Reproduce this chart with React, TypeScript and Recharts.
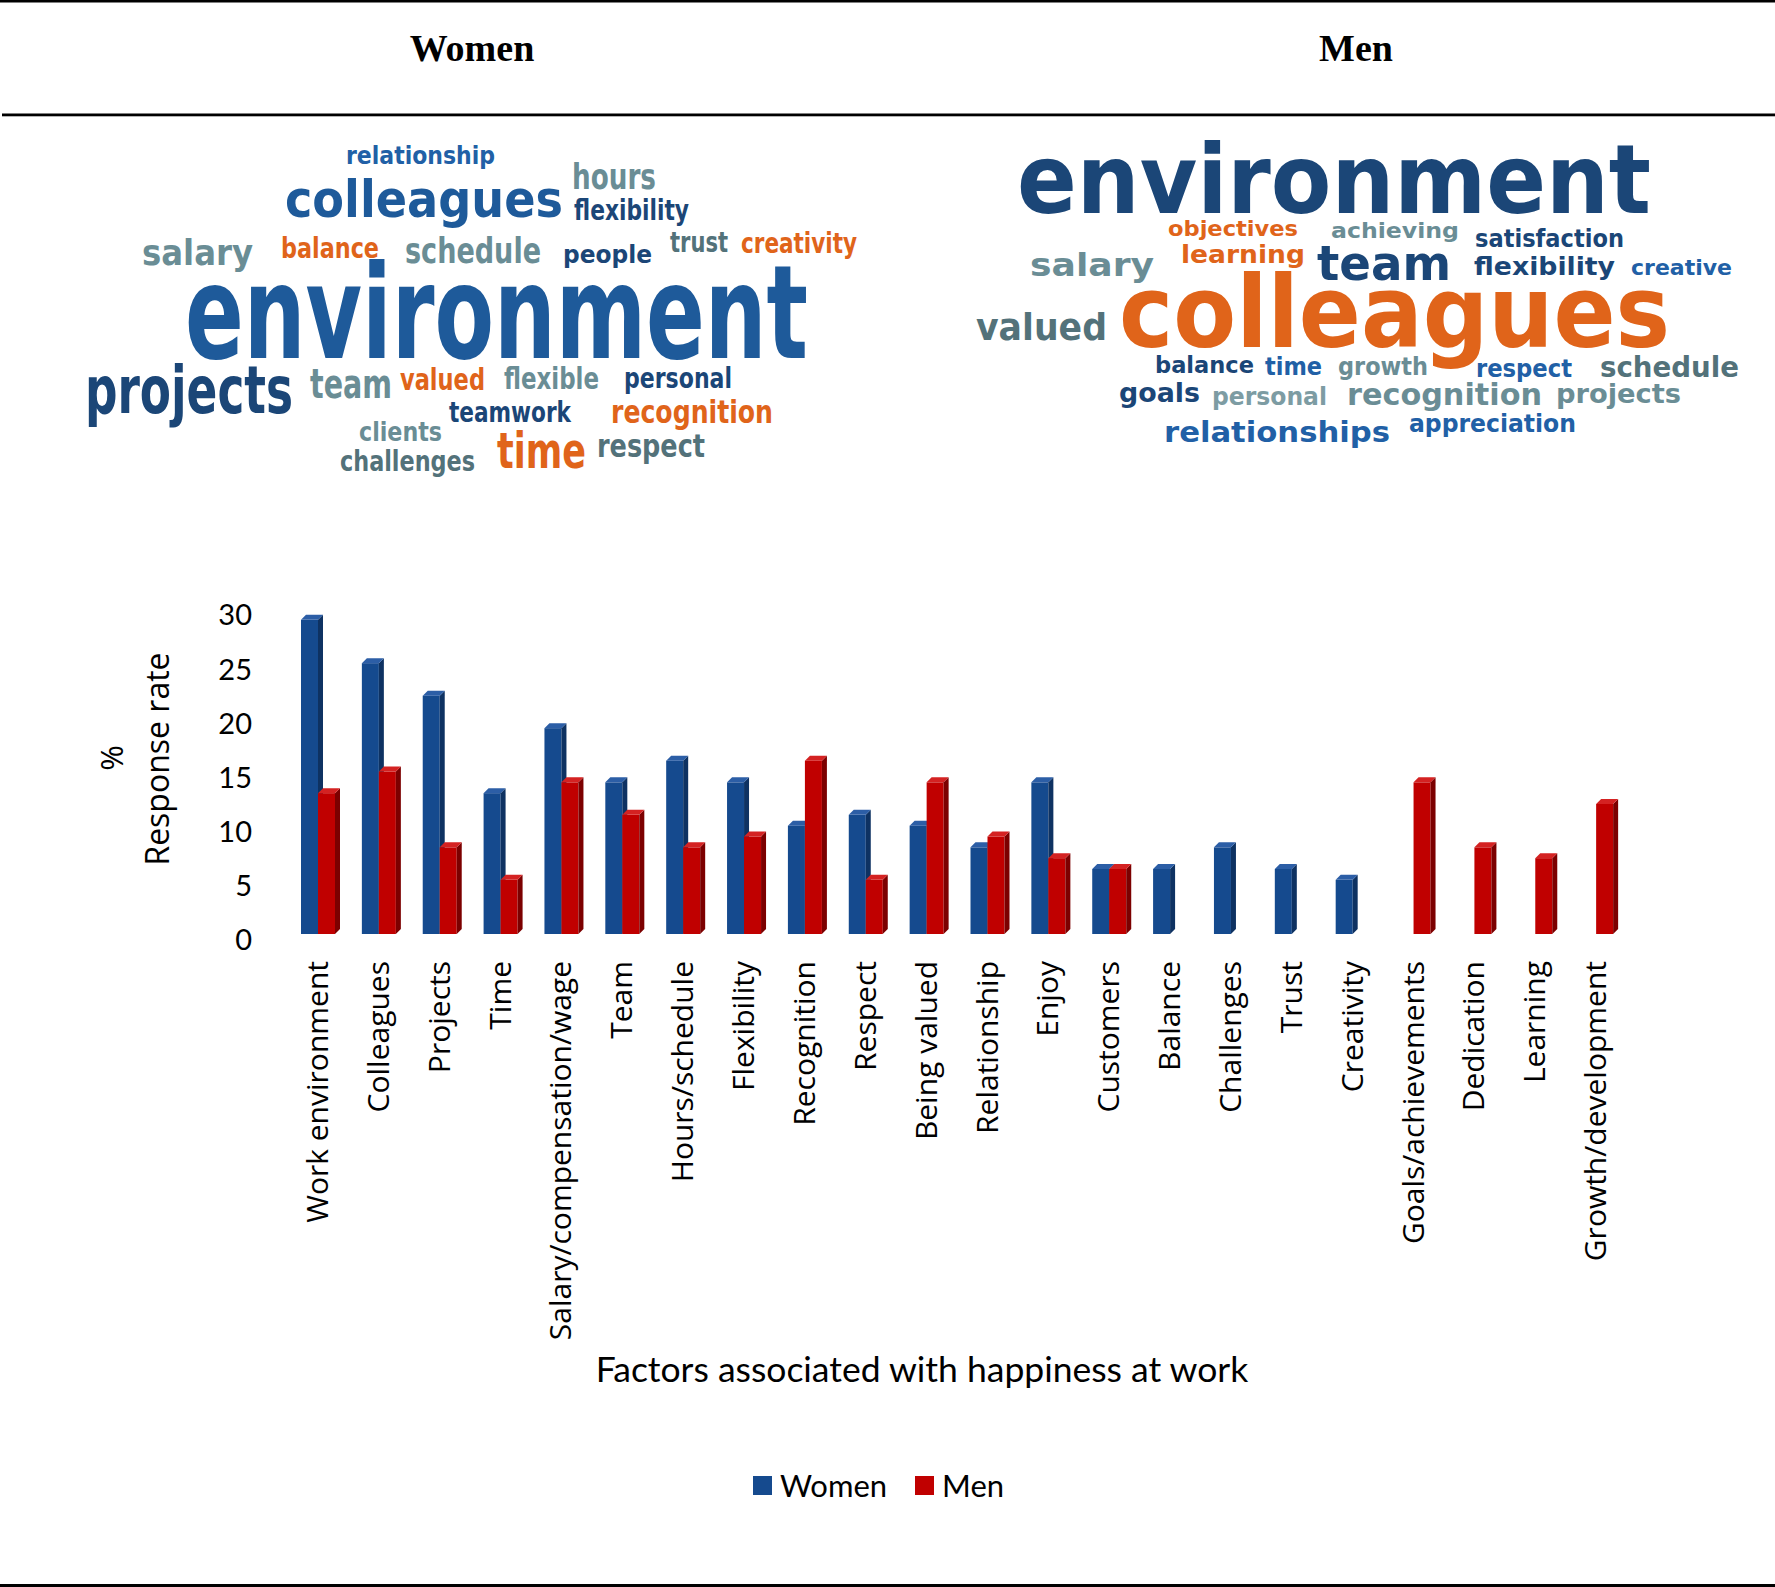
import React from 'react';
import { BarChart, Bar, XAxis, YAxis, Legend } from 'recharts';

// ---------- data ----------
const categories = [
  'Work environment', 'Colleagues', 'Projects', 'Time', 'Salary/compensation/wage', 'Team',
  'Hours/schedule', 'Flexibility', 'Recognition', 'Respect', 'Being valued', 'Relationship',
  'Enjoy', 'Customers', 'Balance', 'Challenges', 'Trust', 'Creativity', 'Goals/achievements',
  'Dedication', 'Learning', 'Growth/development',
];
const womenValues = [29, 25, 22, 13, 19, 14, 16, 14, 10, 11, 10, 8, 14, 6, 6, 8, 6, 5, null, null, null, null];
const menValues = [13, 15, 8, 5, 14, 11, 8, 9, 16, 5, 14, 9, 7, 6, null, null, null, null, 14, 8, 7, 12];
const yTicks = [0, 5, 10, 15, 20, 25, 30];
const seriesNames = ['Women', 'Men'];

// word cloud word lists
const womenWords = ['relationship', 'colleagues', 'hours', 'flexibility', 'salary', 'balance', 'schedule', 'people', 'trust', 'creativity', 'environment', 'projects', 'team', 'valued', 'flexible', 'personal', 'teamwork', 'recognition', 'clients', 'time', 'respect', 'challenges'];
const menWords = ['environment', 'objectives', 'achieving', 'satisfaction', 'salary', 'learning', 'team', 'flexibility', 'creative', 'valued', 'colleagues', 'balance', 'time', 'growth', 'respect', 'schedule', 'goals', 'personal', 'recognition', 'projects', 'relationships', 'appreciation'];

// ---------- styles / layout ----------
const C = {
  navy: '#1B4677',
  blue: '#1E5A9A',
  bright: '#2160A6',
  teal: '#6A8D95',
  dark: '#53727A',
  light: '#7D9CA3',
  orange: '#E0641A',
};
// [left, right, baseline, fontSize, colour]
const womenLayout: [number, number, number, number, string][] = [
  [346, 495, 164, 24, C.bright],
  [285, 563, 217, 52, C.blue],
  [572, 656, 189, 36, C.teal],
  [574, 689, 220, 29, C.navy],
  [142, 253, 265, 35, C.teal],
  [281, 379, 258, 29, C.orange],
  [405, 541, 263, 35, C.teal],
  [563, 652, 263, 25, C.navy],
  [670, 728, 252, 28, C.dark],
  [741, 857, 253, 28, C.orange],
  [185, 808, 358, 130, C.blue],
  [85, 293, 413, 66, C.navy],
  [310, 392, 398, 41, C.teal],
  [400, 485, 390, 31, C.orange],
  [504, 599, 389, 31, C.teal],
  [624, 732, 388, 29, C.navy],
  [449, 571, 422, 29, C.navy],
  [611, 773, 423, 32, C.orange],
  [359, 442, 441, 27, C.teal],
  [497, 586, 468, 49, C.orange],
  [597, 705, 457, 32, C.dark],
  [340, 475, 471, 29, C.dark],
];
const menLayout: [number, number, number, number, string][] = [
  [1017, 1651, 213, 97, C.navy],
  [1168, 1298, 236, 21, C.orange],
  [1331, 1459, 238, 22, C.teal],
  [1475, 1624, 247, 24, C.navy],
  [1030, 1154, 276, 32, C.teal],
  [1181, 1305, 263, 25, C.orange],
  [1317, 1451, 280, 48, C.navy],
  [1474, 1615, 275, 25, C.navy],
  [1631, 1732, 275, 22, C.bright],
  [976, 1107, 340, 38, C.dark],
  [1119, 1670, 347, 100, C.orange],
  [1155, 1254, 373, 23, C.navy],
  [1265, 1322, 375, 24, C.bright],
  [1338, 1428, 375, 24, C.teal],
  [1476, 1572, 377, 24, C.bright],
  [1600, 1739, 377, 28, C.dark],
  [1119, 1200, 402, 27, C.navy],
  [1212, 1327, 405, 24, C.light],
  [1347, 1542, 405, 31, C.teal],
  [1556, 1681, 403, 27, C.teal],
  [1164, 1390, 442, 28, C.bright],
  [1409, 1576, 432, 25, C.bright],
];

const cloudFont = "'Liberation Sans Narrow', 'DejaVu Sans Condensed', 'Liberation Sans', sans-serif";
const calibriLike = 'Lato, sans-serif';
const segoeLike = "'Open Sans', sans-serif";

const WOMEN_COL = { front: '#154A8E', side: '#0E3262', top: '#2C5EA6' };
const MEN_COL = { front: '#C00000', side: '#7C0000', top: '#D42222' };

const chartData = categories.map((name, i) => ({ name, Women: womenValues[i], Men: menValues[i] }));

function make3D(col: { front: string; side: string; top: string }) {
  return (props: any) => {
    const { x, y, width, height } = props;
    if (!(height > 0) || !Number.isFinite(x) || !Number.isFinite(y)) return null;
    const d = 5;
    return (
      <g>
        <rect x={x} y={y} width={width} height={height} fill={col.front} />
        <polygon
          points={`${x + width},${y} ${x + width + d},${y - d} ${x + width + d},${y + height - d} ${x + width},${y + height}`}
          fill={col.side}
        />
        <polygon points={`${x},${y} ${x + d},${y - d} ${x + width + d},${y - d} ${x + width},${y}`} fill={col.top} />
      </g>
    );
  };
}
const WomenShape = make3D(WOMEN_COL);
const MenShape = make3D(MEN_COL);

const CatTick = (props: any) => {
  const { x, y, payload } = props;
  return (
    <text
      transform={`translate(${x},${y + 27}) rotate(-90)`}
      textAnchor="end"
      dy="0.32em"
      fontFamily={segoeLike}
      fontSize={30}
      fill="#000"
    >
      {payload.value}
    </text>
  );
};

const ValTick = (props: any) => {
  const { x, y, payload } = props;
  return (
    <text x={x} y={y + 6} textAnchor="end" dy="0.36em" fontFamily={calibriLike} fontSize={29} fill="#000">
      {payload.value}
    </text>
  );
};

const LegendContent = (props: any) => {
  const items = [...(props.payload || [])].sort(
    (a: any, b: any) => seriesNames.indexOf(a.value) - seriesNames.indexOf(b.value)
  );
  return (
    <div style={{ display: 'flex', alignItems: 'center', fontFamily: calibriLike, fontSize: 31, lineHeight: 1, color: '#000' }}>
      {items.map((p: any, i: number) => (
        <div key={i} style={{ display: 'flex', alignItems: 'center', marginRight: i === 0 ? 28 : 0 }}>
          <span style={{ display: 'inline-block', width: 19, height: 19, background: p.color, marginRight: 8 }} />
          <span>{p.value}</span>
        </div>
      ))}
    </div>
  );
};

function Cloud({ words, layout }: { words: string[]; layout: [number, number, number, number, string][] }) {
  return (
    <g>
      {words.map((w, i) => {
        const [l, r, b, fs, col] = layout[i];
        return (
          <text
            key={w + i}
            x={l}
            y={b}
            fontSize={fs}
            fontWeight="bold"
            fontFamily={cloudFont}
            fill={col}
            textLength={r - l}
            lengthAdjust="spacingAndGlyphs"
          >
            {w}
          </text>
        );
      })}
    </g>
  );
}

export default function App() {
  return (
    <div style={{ position: 'absolute', left: 0, top: 0, width: 1775, height: 1587, background: '#fff', overflow: 'hidden' }}>
      <svg width={1775} height={1587} style={{ position: 'absolute', left: 0, top: 0 }}>
        <rect x={0} y={0} width={1775} height={2.5} fill="#000" />
        <rect x={2} y={113.5} width={1773} height={2.8} fill="#000" />
        <rect x={0} y={1584} width={1775} height={3} fill="#000" />
        <text x={472} y={61} textAnchor="middle" fontFamily="'Liberation Serif', 'Times New Roman', serif" fontWeight="bold" fontSize={38} fill="#000">
          Women
        </text>
        <text x={1356} y={61} textAnchor="middle" fontFamily="'Liberation Serif', 'Times New Roman', serif" fontWeight="bold" fontSize={38} fill="#000">
          Men
        </text>
        <Cloud words={womenWords} layout={womenLayout} />
        <Cloud words={menWords} layout={menLayout} />
        <text transform="translate(123,758) rotate(-90)" textAnchor="middle" fontFamily={segoeLike} fontSize={31} fill="#000">
          %
        </text>
        <text transform="translate(169,759) rotate(-90)" textAnchor="middle" fontFamily={segoeLike} fontSize={32} fill="#000">
          Response rate
        </text>
        <text x={922} y={1382} textAnchor="middle" fontFamily={calibriLike} fontSize={35.5} fill="#000">
          Factors associated with happiness at work
        </text>
      </svg>
      <div style={{ position: 'absolute', left: 0, top: 0 }}>
        <BarChart
          width={1775}
          height={1587}
          data={chartData}
          margin={{ top: 609, left: 248, right: 148, bottom: 253 }}
          barGap={0}
          barSize={17}
        >
          <XAxis
            dataKey="name"
            interval={0}
            height={400}
            axisLine={false}
            tickLine={false}
            tickSize={0}
            tickMargin={0}
            tick={<CatTick />}
          />
          <YAxis
            type="number"
            domain={[0, 30]}
            ticks={yTicks}
            width={40}
            axisLine={false}
            tickLine={false}
            tickSize={0}
            tickMargin={36}
            tick={<ValTick />}
          />
          <Legend
            layout="horizontal"
            verticalAlign="middle"
            align="center"
            content={<LegendContent />}
            wrapperStyle={{ position: 'absolute', left: 753, top: 1470, width: 400, height: 32 }}
          />
          <Bar dataKey="Women" name={seriesNames[0]} fill={WOMEN_COL.front} shape={WomenShape} isAnimationActive={false} />
          <Bar dataKey="Men" name={seriesNames[1]} fill={MEN_COL.front} shape={MenShape} isAnimationActive={false} />
        </BarChart>
      </div>
    </div>
  );
}
